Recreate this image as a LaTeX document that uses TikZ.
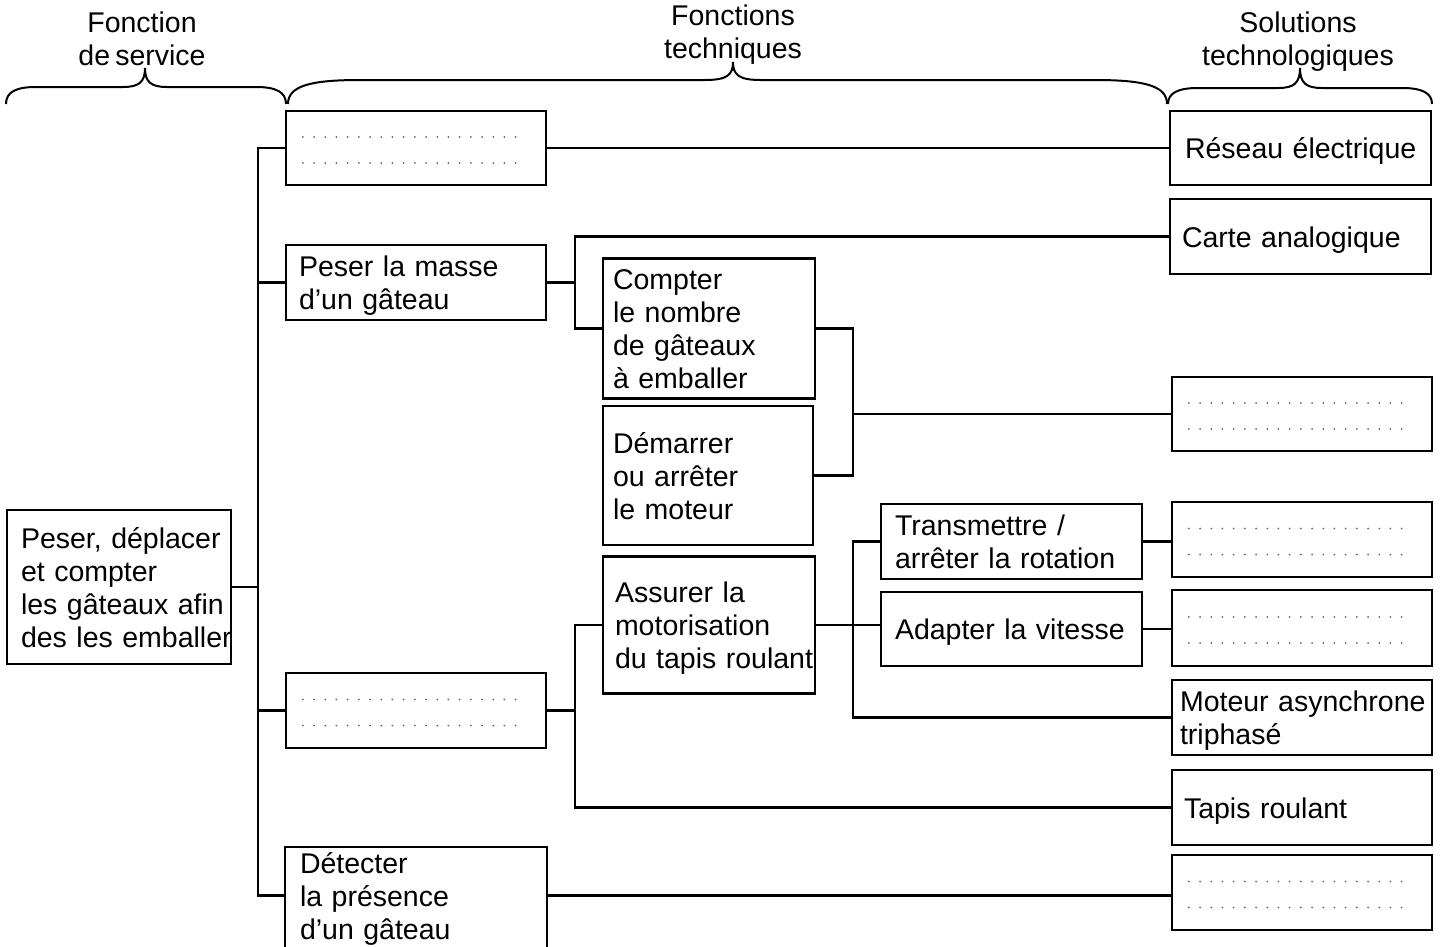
\documentclass[tikz,border=0pt]{standalone}
\usepackage{fontspec}
\setmainfont{Liberation Sans}[WordSpace=0.65]
\usetikzlibrary{calc}
\newcommand\diagfont{\fontsize{28.5pt}{33pt}\selectfont}
\newcommand\mlines[1]{\begin{tabular}{@{}l@{}}\rule{0pt}{31pt}#1\end{tabular}}
\tikzset{
  box/.style={draw, line width=2.3pt, inner ysep=0pt, font=\diagfont, align=left},
  conn/.style={line width=2.3pt},
  dots/.style={line width=2pt, black!60, dash pattern=on 0pt off 11.2pt, line cap=round},
  brace/.style={line width=2pt},
  title/.style={font=\diagfont, align=center},
}
\begin{document}
\begin{tikzpicture}[x=1pt,y=-1pt]
\useasboundingbox (0,0) rectangle (1445,946);
% titles
\node[title] (tfs) at (142,38.5) {Fonction\\de service};
\node[title] (tft) at (733,34.5) {Fonctions\\techniques};
\node[title] (tst) at (1298,42) {Solutions\\technologiques};
% braces
\draw[brace] (6,104) .. controls (6,92) and (16,87) .. (36,87) -- (123,87)
  .. controls (139,87) and (145,82) .. (145,68)
  .. controls (145,82) and (151,87) .. (167,87) -- (256,87)
  .. controls (276,87) and (286,92) .. (286,104);
\draw[brace] (288,104) .. controls (288,86) and (310,80) .. (360,80) -- (705,80)
  .. controls (727,80) and (733,75) .. (733,62)
  .. controls (733,75) and (739,80) .. (761,80) -- (1095,80)
  .. controls (1145,80) and (1167,86) .. (1167,104);
\draw[brace] (1168,104) .. controls (1168,93) and (1178,88) .. (1198,88) -- (1278,88)
  .. controls (1294,88) and (1300,83) .. (1300,68)
  .. controls (1300,83) and (1306,88) .. (1322,88) -- (1402,88)
  .. controls (1422,88) and (1432,93) .. (1432,104);
% boxes
\node[box, minimum width=224pt, minimum height=154pt, text width=196pt, inner xsep=14pt] (main) at (119,587)
  {\mlines{Peser, déplacer\\et compter\\les gâteaux afin\\des les emballer}};
\node[box, minimum width=260pt, minimum height=74pt] (d1) at (416,148) {};
\node[box, minimum width=260pt, minimum height=75pt, text width=234pt, inner xsep=13pt] (peser) at (416,282.5)
  {\mlines{Peser la masse\\d’un gâteau}};
\node[box, minimum width=260pt, minimum height=75pt] (d2) at (416,710.5) {};
\node[box, draw=none, minimum width=260pt, minimum height=96pt, text width=232pt, inner xsep=14pt] (det) at (416,895.5)
  {\mlines{Détecter\\la présence\\d’un gâteau}};
\node[box, minimum width=212pt, minimum height=139pt, text width=192pt, inner xsep=10pt] (compter) at (709,328.5)
  {\mlines{Compter\\le nombre\\de gâteaux\\à emballer}};
\node[box, minimum width=210pt, minimum height=139pt, text width=190pt, inner xsep=10pt] (demarrer) at (708,475.5)
  {\mlines{Démarrer\\ou arrêter\\le moteur}};
\node[box, minimum width=212pt, minimum height=137pt, text width=188pt, inner xsep=12pt] (assurer) at (709,625)
  {\mlines{Assurer la\\motorisation\\du tapis roulant}};
\node[box, minimum width=261pt, minimum height=75pt, text width=233pt, inner xsep=14pt] (trans) at (1011.5,541.5)
  {\mlines{Transmettre /\\arrêter la rotation}};
\node[box, minimum width=261pt, minimum height=74pt, text width=233pt, inner xsep=14pt] (adapter) at (1011.5,629)
  {\mlines{Adapter la vitesse}};
\node[box, minimum width=261pt, minimum height=74pt, text width=231pt, inner xsep=15pt] (reseau) at (1300.5,148)
  {\mlines{Réseau électrique}};
\node[box, minimum width=261pt, minimum height=75pt, text width=237pt, inner xsep=12pt] (carte) at (1300.5,236.5)
  {\mlines{Carte analogique}};
\node[box, minimum width=260pt, minimum height=74pt] (d3) at (1302,414) {};
\node[box, minimum width=260pt, minimum height=75pt] (d4) at (1302,539.5) {};
\node[box, minimum width=260pt, minimum height=76pt] (d5) at (1302,628) {};
\node[box, minimum width=260pt, minimum height=75pt, text width=244pt, inner xsep=8pt] (moteur) at (1302,717.5)
  {\mlines{Moteur asynchrone\\triphasé}};
\node[box, minimum width=260pt, minimum height=75pt, text width=236pt, inner xsep=12pt] (tapis) at (1302,807.5)
  {\mlines{Tapis roulant}};
\node[box, minimum width=260pt, minimum height=75pt] (d6) at (1302,892.5) {};
% open box for the cut-off node
\coordinate (bottom) at (0,947);
\coordinate (dettop) at (0,847);
\draw[conn] (det.west |- bottom) -- (det.west |- dettop) -- (det.east |- dettop) -- (det.east |- bottom);
% dotted placeholders
\foreach \b in {d1,d2,d3,d4,d5,d6}{
  \draw[dots] ($(\b.west)+(18,-11)$) -- ++(213,0);
  \draw[dots] ($(\b.west)+(18,15)$) -- ++(213,0);
}
% buses
\coordinate (bus1) at (258,0);
\coordinate (bus2) at (575,0);
\coordinate (bus3) at (853,0);
% connectors
\draw[conn] (d1.west) -| (bus1 |- det.west) -- (det.west);
\draw[conn] (main.east) -- (main.east -| bus1);
\draw[conn] (peser.west) -- (peser.west -| bus1);
\draw[conn] (d2.west) -- (d2.west -| bus1);
\draw[conn] (d1.east) -- (reseau.west);
\draw[conn] (peser.east) -- (peser.east -| bus2);
\draw[conn] (carte.west) -| (bus2 |- compter.west) -- (compter.west);
\draw[conn] (compter.east) -| (bus3 |- demarrer.east) -- (demarrer.east);
\draw[conn] (d3.west) -- (d3.west -| bus3);
\draw[conn] (d2.east) -- (d2.east -| bus2);
\draw[conn] (assurer.west) -| (bus2 |- tapis.west) -- (tapis.west);
\draw[conn] (assurer.east) -- (assurer.east -| adapter.west);
\draw[conn] (trans.west) -| (bus3 |- moteur.west) -- (moteur.west);
\draw[conn] (trans.east) -- (trans.east -| d4.west);
\draw[conn] (adapter.east) -- (adapter.east -| d5.west);
\draw[conn] (det.east) -- (det.east -| d6.west);
\end{tikzpicture}
\end{document}
